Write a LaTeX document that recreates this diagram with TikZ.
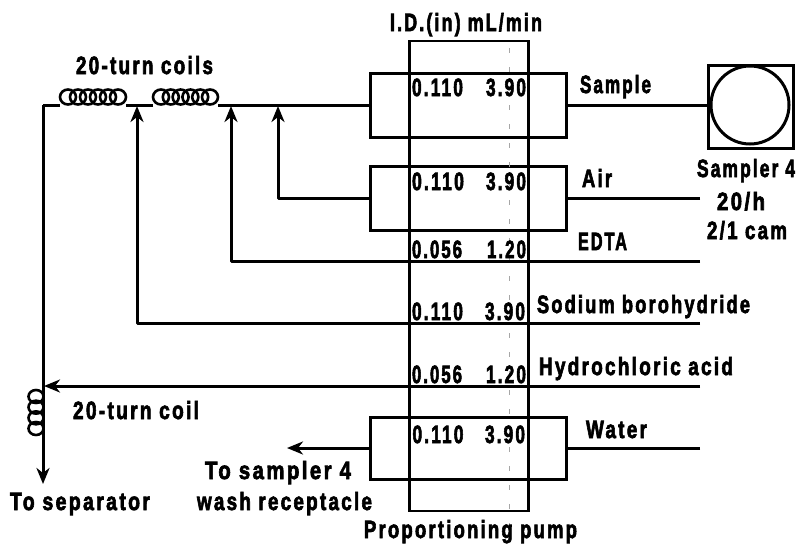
\documentclass[tikz,border=0pt]{standalone}
\usepackage{graphicx}
\usepackage{fontspec}
\setmainfont{Liberation Sans}
\newfontfamily\lblfont{Liberation Sans Bold}[LetterSpace=12,FakeBold=3]
\usetikzlibrary{arrows.meta}
\newcommand{\lbl}[5]{\node[lbltext] (#1) at (#3,#4) {\resizebox{#2pt}{\height}{#5}};}
\newcommand{\coilh}[3]{%
  \foreach \k in {0,...,5}{\draw[coilline] ({#1+8+(#2-16)*\k/5},#3) ellipse (8pt and 7.5pt);}}
\newcommand{\coilv}[3]{%
  \foreach \k in {0,...,3}{\draw[coilline] (#1,{#2+6.5+(#3-13)*\k/3}) ellipse (7.5pt and 6.5pt);}}
\tikzset{
  lbltext/.style={anchor=base,inner sep=0pt,font=\lblfont\fontsize{25}{25}\selectfont,text=black},
  flow/.style={line width=3pt,black,line join=round},
  tube/.style={flow,-{Stealth[length=16pt,width=13pt,inset=5pt]}},
  coilline/.style={line width=2.6pt,black},
  boxnode/.style={draw=black,line width=3pt,inner sep=0pt,minimum width=196pt,minimum height=64pt},
  pumpnode/.style={draw=black,line width=2.8pt,inner sep=0pt,minimum width=119pt,minimum height=470pt},
  speck/.style={line width=0.6pt,black!35,dash pattern=on 5pt off 14pt}
}
\begin{document}
\begin{tikzpicture}[x=1pt,y=-1pt]
\useasboundingbox (0,0) rectangle (797,544);
\fill[white] (0,0) rectangle (797,544);
% pump and tube boxes
\node[pumpnode] (pump) at (469,276) {};
\node[boxnode] (b1) at (468,105) {};
\node[boxnode] (b2) at (468,198) {};
\node[boxnode,minimum height=62pt] (b3) at (468,448) {};
\draw[speck] (509,48) -- (509,530);
% sampler
\node[draw=black,line width=3pt,inner sep=0pt,minimum width=85pt,minimum height=83pt] (samp) at (750.5,106.5) {};
\node[draw=black,line width=3pt,circle,inner sep=0pt,minimum size=78pt] (wheel) at (750,105) {};
% coils
\coilh{60}{66}{97}
\coilh{153}{65}{97}
\coilv{36}{390}{45}
% junctions and free ends
\coordinate (corner) at (43,105);
\coordinate (c1l) at (60,105);
\coordinate (c1r) at (126,105);
\coordinate (c2l) at (153,105);
\coordinate (c2r) at (218,105);
\coordinate (j1) at (137,106);
\coordinate (j2) at (231,106);
\coordinate (j3) at (278,106);
\coordinate (out) at (43,484);
\coordinate (airin) at (700,198);
\coordinate (edtain) at (700,261);
\coordinate (nain) at (700,323);
\coordinate (hclin) at (700,386);
\coordinate (waterin) at (700,448);
\coordinate (hclj) at (44,386);
\coordinate (wash) at (287,448);
% connectors
\draw[flow] (b1.west) -- (c2r);
\draw[flow] (c2l) -- (c1r);
\draw[flow] (c1l) -- (corner);
\draw[tube] (corner) -- (out);
\draw[flow] (b1.east) -- (wheel.west);
\draw[flow] (airin) -- (b2.east);
\draw[tube] (b2.west) -| (j3);
\draw[tube] (edtain) -| (j2);
\draw[tube] (nain) -| (j1);
\draw[tube] (hclin) -- (hclj);
\draw[flow] (waterin) -- (b3.east);
\draw[tube] (b3.west) -- (wash);
% labels
\lbl{thead}{152}{466}{31}{I.D.(in) mL/min}
\lbl{tcoils}{137}{144.5}{74}{20-turn coils}
\lbl{tsample}{71}{615.5}{93}{Sample}
\lbl{tair}{30}{597}{187}{Air}
\lbl{tedta}{49}{602.5}{250}{EDTA}
\lbl{tsod}{213}{643.5}{313}{Sodium borohydride}
\lbl{thcl}{194}{636}{375}{Hydrochloric acid}
\lbl{twater}{61}{616.5}{438}{Water}
\lbl{tsa}{98}{746}{177}{Sampler 4}
\lbl{tsb}{48}{741}{210}{20/h}
\lbl{tsc}{80}{747}{239}{2/1 cam}
\lbl{tcoil}{126}{136}{419}{20-turn coil}
\lbl{ttoa}{146}{278}{479}{To sampler 4}
\lbl{ttob}{175}{284.5}{510}{wash receptacle}
\lbl{tsep}{140}{80}{510}{To separator}
\lbl{tpump}{213}{470.5}{538}{Proportioning pump}
\lbl{ra}{51}{437.5}{96}{0.110}
\lbl{rb}{40}{506}{96}{3.90}
\lbl{rc}{52}{438}{190}{0.110}
\lbl{rd}{40}{506}{190}{3.90}
\lbl{re}{50}{437}{258}{0.056}
\lbl{rf}{39}{506.5}{258}{1.20}
\lbl{rg}{51}{437.5}{320}{0.110}
\lbl{rh}{40}{505}{320}{3.90}
\lbl{ri}{50}{437}{383}{0.056}
\lbl{rj}{40}{506}{383}{1.20}
\lbl{rk}{51}{438}{443}{0.110}
\lbl{rl}{40}{505}{443}{3.90}
\end{tikzpicture}
\end{document}
